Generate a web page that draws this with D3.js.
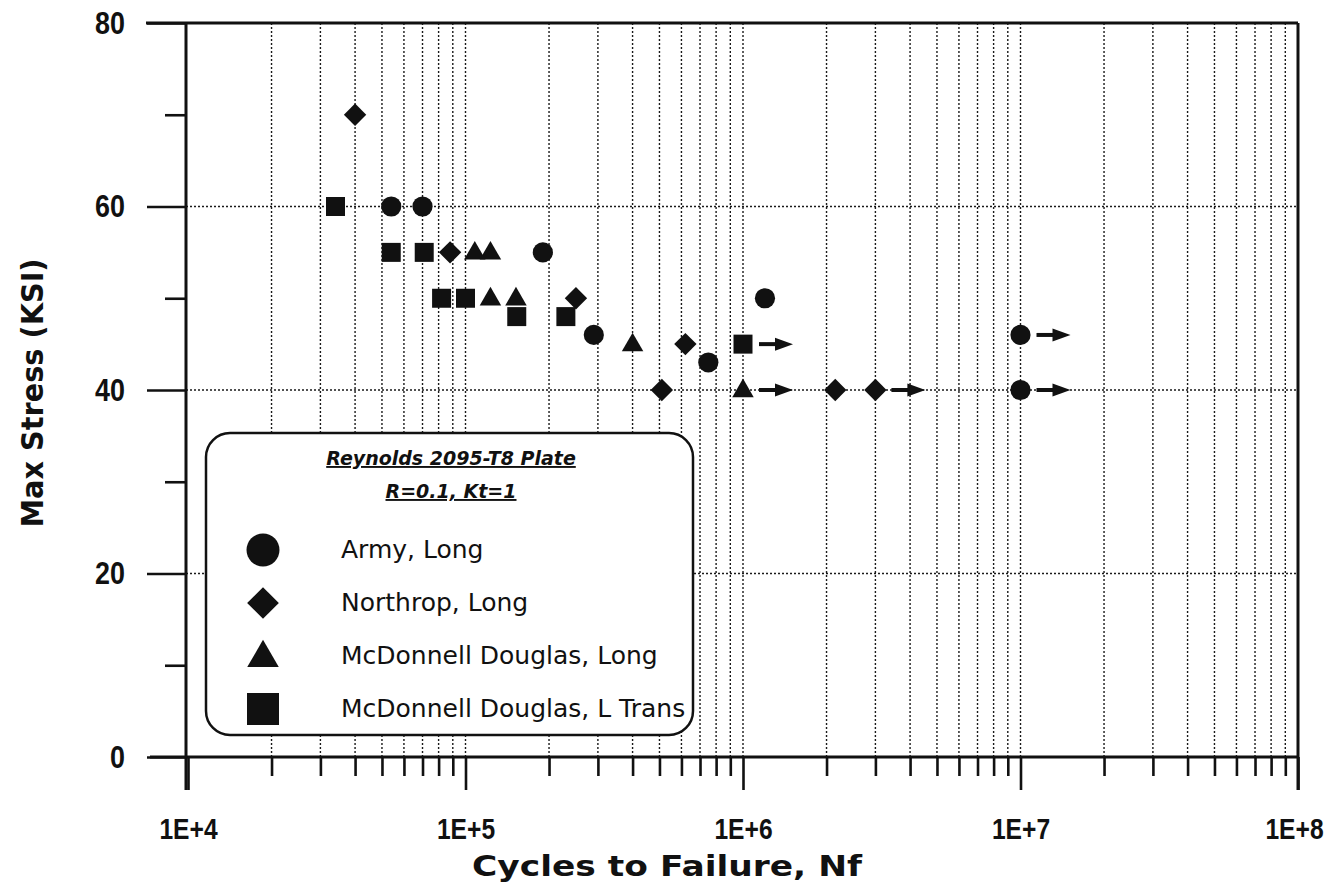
<!DOCTYPE html>
<html><head><meta charset="utf-8">
<script src="https://cdn.jsdelivr.net/npm/d3@7/dist/d3.min.js"></script>
<style>body{margin:0;background:#fff}svg{display:block}</style>
</head><body>
<svg id="c" width="1340" height="893"></svg>
<script>
// ---- data ----
const seriesNames = ["Army, Long", "Northrop, Long", "McDonnell Douglas, Long", "McDonnell Douglas, L Trans"];
const armyCycles   = [5.4e4, 7.0e4, 1.9e5, 2.9e5, 7.5e5, 1.2e6, 1.0e7, 1.0e7];
const armyStress   = [60, 60, 55, 46, 43, 50, 46, 40];
const armyRunout   = [0, 0, 0, 0, 0, 0, 1, 1];
const northCycles  = [4.0e4, 8.8e4, 2.5e5, 6.2e5, 5.1e5, 2.15e6, 3.0e6];
const northStress  = [70, 55, 50, 45, 40, 40, 40];
const northRunout  = [0, 0, 0, 0, 0, 0, 1];
const mcdlCycles   = [1.08e5, 1.23e5, 1.23e5, 1.52e5, 4.0e5, 1.0e6];
const mcdlStress   = [55, 55, 50, 50, 45, 40];
const mcdlRunout   = [0, 0, 0, 0, 0, 1];
const mcdtCycles   = [3.4e4, 5.4e4, 7.1e4, 8.2e4, 1.0e5, 1.53e5, 2.3e5, 1.0e6];
const mcdtStress   = [60, 55, 55, 50, 50, 48, 48, 45];
const mcdtRunout   = [0, 0, 0, 0, 0, 0, 0, 1];
const xTickLabels  = ["1E+4", "1E+5", "1E+6", "1E+7", "1E+8"];
const yTickValues  = [0, 20, 40, 60, 80];
const legendTitle  = ["Reynolds 2095-T8 Plate", "R=0.1, Kt=1"];

// ---- layout ----
const L = 186, R = 1298, T = 23, B = 757;
const svg = d3.select("#c");
const x = d3.scaleLog().domain([1e4, 1e8]).range([L + 2, R]);
const y = d3.scaleLinear().domain([0, 80]).range([B, T]);
const INK = "#111";
const BOLD = "'DejaVu Sans', sans-serif";
const NARROW = "'Liberation Sans', sans-serif";

// minor/major log positions
const logVals = [];
for (let e = 4; e < 8; e++) for (let m = 1; m <= 9; m++) logVals.push(m * Math.pow(10, e));
logVals.push(1e8);
const majors = logVals.filter(v => Math.abs(Math.log10(v) - Math.round(Math.log10(v))) < 1e-9);
const minors = logVals.filter(v => !majors.includes(v));

// grid
const grid = svg.append("g").attr("stroke", "#1a1a1a").attr("stroke-width", 1.4).attr("stroke-dasharray", "2,2");
grid.selectAll("line.v").data(logVals.filter(v => v > 1e4 && v < 1e8)).join("line")
  .attr("x1", d => x(d)).attr("x2", d => x(d)).attr("y1", T).attr("y2", B);
grid.selectAll("line.h").data([20, 40, 60]).join("line")
  .attr("x1", L).attr("x2", R).attr("y1", d => y(d)).attr("y2", d => y(d));

// condense tick text horizontally
function condense(sel, f) {
  sel.each(function() {
    const w = this.getComputedTextLength();
    d3.select(this).attr("textLength", w * f).attr("lengthAdjust", "spacingAndGlyphs");
  });
}

// axes with d3 axis generators
const xMinorAxis = d3.axisBottom(x).tickValues(minors).tickSize(19).tickFormat("");
const xMajorAxis = d3.axisBottom(x).tickValues(majors).tickSize(33).tickPadding(28)
  .tickFormat((d, i) => xTickLabels[i]);
const gxm = svg.append("g").attr("transform", `translate(0,${B})`).call(xMinorAxis);
const gxM = svg.append("g").attr("transform", `translate(0,${B})`).call(xMajorAxis);
[gxm, gxM].forEach(g => { g.select(".domain").remove(); g.selectAll(".tick line").attr("stroke", INK).attr("stroke-width", 2.6); });
gxM.selectAll(".tick text").attr("fill", INK).style("font-family", NARROW).style("font-weight", "bold").style("font-size", "30px")
  .attr("dx", (d, i) => i === xTickLabels.length - 1 ? -4 : 0)
  .call(condense, 0.82);

const yMinorAxis = d3.axisLeft(y).tickValues([10, 30, 50, 70]).tickSize(21).tickFormat("");
const yMajorAxis = d3.axisLeft(y).tickValues(yTickValues).tickSize(39).tickPadding(22).tickFormat(d3.format("d"));
const gym = svg.append("g").attr("transform", `translate(${L},0)`).call(yMinorAxis);
const gyM = svg.append("g").attr("transform", `translate(${L},0)`).call(yMajorAxis);
[gym, gyM].forEach(g => { g.select(".domain").remove(); g.selectAll(".tick line").attr("stroke", INK).attr("stroke-width", 2.6); });
gyM.selectAll(".tick text").attr("fill", INK).style("font-family", NARROW).style("font-weight", "bold").style("font-size", "32px")
  .call(condense, 0.84);

// frame lines
const frame = svg.append("g").attr("stroke", INK).attr("stroke-width", 3).attr("fill", "none");
frame.append("line").attr("x1", L - 40).attr("x2", R).attr("y1", T).attr("y2", T);
frame.append("line").attr("x1", L - 36).attr("x2", R).attr("y1", B).attr("y2", B);
frame.append("line").attr("x1", L).attr("x2", L).attr("y1", T).attr("y2", B + 33);
frame.append("line").attr("x1", R).attr("x2", R).attr("y1", T).attr("y2", B + 33);

// axis titles
svg.append("text").attr("x", 667).attr("y", 876).attr("text-anchor", "middle")
  .attr("textLength", 390).attr("lengthAdjust", "spacingAndGlyphs")
  .style("font-family", BOLD).style("font-weight", "bold").style("font-size", "29px").attr("fill", INK)
  .text("Cycles to Failure, Nf");
svg.append("text").attr("transform", `translate(43,393) rotate(-90)`).attr("text-anchor", "middle")
  .attr("textLength", 269).attr("lengthAdjust", "spacingAndGlyphs")
  .style("font-family", BOLD).style("font-weight", "bold").style("font-size", "31px").attr("fill", INK)
  .text("Max Stress (KSI)");

// symbols
function symPath(k, size) {
  const types = [d3.symbolCircle, d3.symbolSquare, d3.symbolTriangle, d3.symbolSquare];
  return d3.symbol().type(types[k]).size(size)();
}
const series = [
  {c: armyCycles, s: armyStress, r: armyRunout},
  {c: northCycles, s: northStress, r: northRunout},
  {c: mcdlCycles, s: mcdlStress, r: mcdlRunout},
  {c: mcdtCycles, s: mcdtStress, r: mcdtRunout}
];
const markSize = [320, 250, 200, 361];
const pts = svg.append("g");
series.forEach((ser, k) => {
  const data = ser.c.map((c, i) => ({c, s: ser.s[i], r: ser.r[i]}));
  pts.selectAll(null).data(data).join("path")
    .attr("d", symPath(k, markSize[k]))
    .attr("transform", d => `translate(${x(d.c)},${y(d.s) + (k === 2 ? 1 : 0)})` + (k === 1 ? " rotate(45)" : ""))
    .attr("fill", INK);
  // runout arrows
  const ro = data.filter(d => d.r);
  const ag = pts.append("g");
  ro.forEach(d => {
    const x0 = x(d.c) + 16, yy = y(d.s);
    ag.append("line").attr("x1", x0).attr("x2", x0 + 20).attr("y1", yy).attr("y2", yy)
      .attr("stroke", INK).attr("stroke-width", 4);
    ag.append("path").attr("d", `M${x0 + 16},${yy - 6.5}L${x0 + 34},${yy}L${x0 + 16},${yy + 6.5}Z`).attr("fill", INK);
  });
});

// legend
const lg = svg.append("g");
lg.append("rect").attr("x", 206).attr("y", 433).attr("width", 487).attr("height", 302)
  .attr("rx", 24).attr("ry", 24).attr("fill", "#fff").attr("stroke", INK).attr("stroke-width", 2.5);
legendTitle.forEach((t, i) => {
  lg.append("text").attr("x", 451).attr("y", 465 + i * 33).attr("text-anchor", "middle")
    .style("font-family", BOLD).style("font-weight", "bold").style("font-style", "italic")
    .style("font-size", "19px").style("text-decoration", "underline").attr("fill", INK).text(t);
});
const legSize = [855, 503, 430, 1024];
seriesNames.forEach((nm, k) => {
  const yy = 550 + k * 53;
  lg.append("path").attr("d", symPath(k, legSize[k]))
    .attr("transform", `translate(263,${yy + (k === 2 ? 2 : 0)})` + (k === 1 ? " rotate(45)" : ""))
    .attr("fill", INK);
  lg.append("text").attr("x", 341).attr("y", yy + 8)
    .style("font-family", "'DejaVu Sans', sans-serif").style("font-size", "25px").attr("fill", INK).text(nm);
});
</script>
</body></html>
